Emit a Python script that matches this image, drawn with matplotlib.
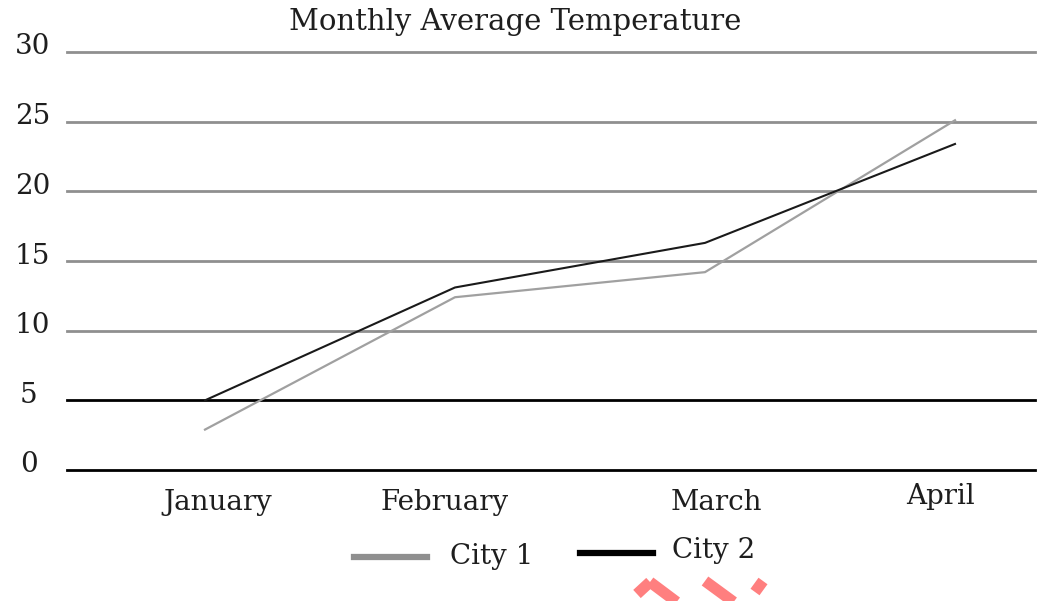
import matplotlib.pyplot as plt
from matplotlib.lines import Line2D

months = ["January", "February", "March", "April"]
city1 = [2.9, 12.4, 14.2, 25.1]
city2 = [5.0, 13.1, 16.3, 23.4]
yticks = [0, 5, 10, 15, 20, 25, 30]

plt.rcParams["font.family"] = "DejaVu Serif"
W, H = 1039, 601
txt = "#1e1e1e"

fig = plt.figure(figsize=(W / 100, H / 100), dpi=100)
ax = fig.add_axes([67 / W, (H - 470) / H, (1035 - 67) / W, (470 - 52) / H])

x = list(range(len(months)))
ax.set_xlim(-0.552, 3.32)
ax.set_ylim(0, 30)

# horizontal rules: gray grid, black at 0 and 5
for v in yticks:
    col = "black" if v in (0, 5) else "#8f8f8f"
    ax.axhline(v, color=col, lw=2.0, zorder=1, clip_on=False)

ax.plot(x, city1, color="#a0a0a0", lw=1.6, zorder=3)
ax.plot(x, city2, color="#1a1a1a", lw=1.5, zorder=3)

for s in ax.spines.values():
    s.set_visible(False)
ax.set_xticks([])
ax.set_yticks([])

# y labels flush left, sitting just above their rule
for v in yticks:
    ypix = ax.transData.transform((0, v))[1]
    xpos = 15 if v >= 10 else 20
    fig.text(xpos / W, (ypix + 5) / H, str(v), ha="left", va="center", fontsize=20, color=txt)

# month labels sit a little off the data positions
label_px = [218, 445, 716, 941]
label_py = [503, 503, 503, 496]
for m, px, py in zip(months, label_px, label_py):
    fig.text(px / W, 1 - py / H, m, ha="center", va="center", fontsize=20, color=txt)

fig.text(515 / W, 1 - 22 / H, "Monthly Average Temperature", ha="center", va="center",
         fontsize=21, color=txt)

# legend drawn by hand
fig.add_artist(Line2D([354 / W, 427 / W], [1 - 557 / H] * 2, color="#8f8f8f", lw=4.5))
fig.text(450 / W, 1 - 556 / H, "City 1", ha="left", va="center", fontsize=20, color=txt)
fig.add_artist(Line2D([580 / W, 653 / W], [1 - 553 / H] * 2, color="black", lw=4.5))
fig.text(672 / W, 1 - 550 / H, "City 2", ha="left", va="center", fontsize=20, color=txt)

# red strokes along the bottom edge
red = "#ff7f7f"
strokes = [((637, 594), (650, 582)), ((650, 582), (678, 603)),
           ((705, 581), (735, 603)), ((763, 581), (755, 592))]
for (x0, y0), (x1, y1) in strokes:
    fig.add_artist(Line2D([x0 / W, x1 / W], [1 - y0 / H, 1 - y1 / H],
                          color=red, lw=8, solid_capstyle="butt"))

fig.savefig("out.png", dpi=100)
